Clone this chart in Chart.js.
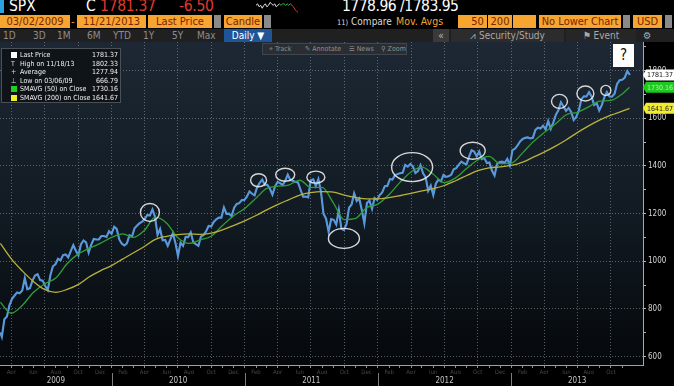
<!DOCTYPE html>
<html><head><meta charset="utf-8">
<script src="https://cdn.jsdelivr.net/npm/chart.js@4.4.1/dist/chart.umd.min.js"></script>
<style>
html,body{margin:0;padding:0;background:#000;}
body{width:674px;height:386px;overflow:hidden;position:relative;font-family:'DejaVu Sans Condensed','DejaVu Sans',sans-serif;}
.a{position:absolute;white-space:nowrap;line-height:1;}
.big{font-size:15.5px;}
.f{position:absolute;top:15px;height:13px;background:#f7a531;color:#7a2400;font-size:11px;line-height:13px;text-align:center;}
.dd{position:absolute;top:15px;height:13px;width:7px;background:#8a8a8a;}
.r3{position:absolute;top:29px;height:13px;font-size:10px;line-height:13px;color:#8e8e8e;}
#lg{position:absolute;left:1px;top:48px;width:120px;height:55px;background:rgba(14,18,23,0.92);border:1px solid #4b5057;box-sizing:border-box;font-size:7px;color:#f0f0f0;}
#lg div{position:absolute;left:0;width:118px;height:8px;line-height:8px;}
#lg .l{position:absolute;left:18px;}
#lg .v{position:absolute;right:2px;}
#lg .i{position:absolute;left:9px;top:1px;width:6px;height:6px;}
#tb{position:absolute;left:262px;top:43px;width:145px;height:12px;background:#2a2e33;border:1px solid #41464c;box-sizing:border-box;font-size:7px;color:#8c8f93;line-height:10px;}
#tb span{position:absolute;}
#q{position:absolute;left:613px;top:44px;width:21px;height:23px;background:#fff;color:#111;font-size:15px;line-height:23px;text-align:center;}
</style></head><body>
<script>
// ---------------- data ----------------
const startDate = '2009-03-02';
const startClose = 700.82;
const firstFriday = '2009-03-06';
// weekly closes (one per week from 03/06/2009 to 11/21/2013)
const weeklyClose = [
683.38,756.55,768.54,815.94,842.50,856.56,869.60,866.23,877.52,929.23,882.88,887.00,919.14,940.09,946.21,921.23,918.90,896.42,879.13,940.38,979.26,987.48,1010.48,1004.09,1026.13,1028.93,1016.40,1042.73,1068.30,1044.38,1025.21,1071.49,1087.68,1079.60,1036.19,1069.30,1093.48,1091.38,1091.49,1105.98,1106.41,1102.47,1126.48,1115.10,
1144.98,1136.03,1091.76,1073.87,1066.19,1075.51,1109.17,1104.49,1138.70,1149.99,1159.90,1166.59,1178.10,1194.37,1192.13,1217.28,1186.69,1110.88,1135.68,1087.69,1089.41,1064.88,1091.60,1117.51,1076.76,1022.58,1077.96,1064.88,1102.66,1101.60,1121.64,1079.25,1071.69,1064.59,1104.51,1109.55,1125.59,1148.67,1146.24,1165.15,1176.19,1183.08,1183.26,1225.85,1199.21,1199.73,1189.40,1224.71,1240.40,1243.91,1256.77,1257.64,
1271.50,1293.24,1283.35,1276.34,1310.87,1329.15,1343.01,1319.88,1321.15,1304.28,1279.20,1313.80,1332.41,1328.17,1319.68,1337.38,1363.61,1340.20,1337.77,1333.27,1331.10,1300.16,1270.98,1271.50,1268.45,1339.67,1343.80,1316.14,1345.02,1292.28,1199.38,1178.81,1123.53,1176.80,1173.97,1154.23,1216.01,1136.43,1131.42,1155.46,1224.58,1238.25,1285.09,1253.23,1263.85,1215.65,1158.67,1244.28,1255.19,1219.66,1265.33,1257.60,
1277.81,1289.09,1315.38,1316.33,1344.90,1342.64,1361.23,1365.74,1369.63,1370.87,1404.17,1397.11,1408.47,1398.08,1370.26,1378.53,1403.36,1369.10,1353.39,1295.22,1317.82,1278.04,1325.66,1342.84,1335.02,1362.16,1354.68,1356.78,1362.66,1385.97,1390.99,1405.87,1418.16,1411.13,1406.58,1437.92,1465.77,1460.15,1440.67,1460.93,1428.59,1433.19,1411.94,1414.20,1379.85,1359.88,1409.15,1416.18,1418.07,1413.58,1430.15,1402.43,
1466.47,1472.05,1485.98,1502.96,1513.17,1517.93,1519.79,1515.60,1518.20,1551.18,1560.70,1556.89,1569.19,1553.28,1588.85,1555.25,1582.24,1614.42,1633.70,1667.47,1649.60,1630.74,1643.38,1626.73,1592.43,1606.28,1631.89,1680.19,1692.09,1691.65,1709.67,1691.42,1655.83,1663.50,1632.97,1655.17,1687.99,1709.91,1691.75,1690.50,1703.20,1744.50,1759.77,1761.64,1770.61,1798.18,1781.37
];
const maDates = ['2009-03-02',
'2009-04-01','2009-05-01','2009-06-01','2009-07-01','2009-08-01','2009-09-01','2009-10-01','2009-11-01','2009-12-01',
'2010-01-01','2010-02-01','2010-03-01','2010-04-01','2010-05-01','2010-06-01','2010-07-01','2010-08-01','2010-09-01','2010-10-01','2010-11-01','2010-12-01',
'2011-01-01','2011-02-01','2011-03-01','2011-04-01','2011-05-01','2011-06-01','2011-07-01','2011-08-01','2011-09-01','2011-10-01','2011-11-01','2011-12-01',
'2012-01-01','2012-02-01','2012-03-01','2012-04-01','2012-05-01','2012-06-01','2012-07-01','2012-08-01','2012-09-01','2012-10-01','2012-11-01','2012-12-01',
'2013-01-01','2013-02-01','2013-03-01','2013-04-01','2013-05-01','2013-06-01','2013-07-01','2013-08-01','2013-09-01','2013-10-01','2013-11-01','2013-11-21'];
const sma50 = [828,
782,815,870,905,930,990,1030,1055,1075,
1100,1115,1100,1130,1185,1160,1100,1075,1090,1105,1150,1190,
1222,1265,1305,1315,1320,1340,1310,1310,1245,1175,1180,1225,
1240,1280,1330,1375,1395,1365,1330,1350,1390,1425,1440,1410,
1412,1455,1500,1540,1575,1615,1625,1648,1672,1675,1702,1730.16];
const sma200 = [1075,
1010,960,915,882,870,882,902,935,960,
982,1010,1035,1062,1092,1105,1112,1115,1113,1118,1132,1150,
1170,1192,1215,1238,1258,1278,1288,1292,1290,1278,1268,1262,
1262,1267,1275,1285,1295,1305,1318,1338,1360,1380,1392,1396,
1402,1416,1436,1458,1482,1510,1540,1568,1593,1613,1630,1641.67];
const yTickValues = [600,700,800,900,1000,1100,1200,1300,1400,1500,1600,1700,1800,1900];
const monthNames = ['Jan','Feb','Mar','Apr','May','Jun','Jul','Aug','Sep','Oct','Nov','Dec'];
const years = ['2009','2010','2011','2012','2013'];
const yearStarts = ['2010-01-01','2011-01-01','2012-01-01','2013-01-01'];
const circleDates = ['2010-04-16','2011-02-08','2011-04-22','2011-07-15','2011-09-30','2012-04-04','2012-09-17','2013-05-13','2013-07-23','2013-09-17'];
const circlePrices = [1205,1340,1363,1353,1096,1395,1464,1671,1704,1717];
const sparkWhite = [6,7,5,6,4,6,7,5,6,8,7,6,7,5,6,7];
const sparkGreen = [7,6,7,7,6,7,6,7,6];
const sparkRed = [6,5,3,2,1];
</script>

<!-- header row 1 -->
<div class="a" style="left:0;top:0;width:4px;height:13px;background:#2ba3df"></div>
<div class="a big" style="left:9px;top:-1px;color:#fff">SPX</div>
<div class="a big" style="left:86px;top:-1px;color:#fff">C</div>
<div class="a big" style="left:100px;top:-1px;color:#e2392f;letter-spacing:-0.3px">1781.37</div>
<div class="a big" style="left:179px;top:-1px;color:#e2392f;letter-spacing:-0.3px">-6.50</div>
<div class="a" style="left:255px;top:0;width:80px;height:15px"><canvas id="spark" width="80" height="15"></canvas></div>
<div class="a big" style="left:342px;top:-1px;color:#fff;letter-spacing:-0.5px">1778.96 /1783.95</div>
<!-- header row 2 -->
<div class="f" style="left:0;width:70px">03/02/2009</div>
<div class="a" style="left:71px;top:15px;font-size:11px;line-height:13px;color:#f7a531">-</div>
<div class="f" style="left:77px;width:69px">11/21/2013</div>
<div class="f" style="left:148px;width:64px">Last Price</div>
<div class="dd" style="left:214px"></div>
<div class="f" style="left:224px;width:38px">Candle</div>
<div class="dd" style="left:264px"></div>
<div class="a" style="left:337px;top:15px;font-size:10px;line-height:13px;color:#d8d8d8"><span style="font-size:7.5px">11)</span> Compare</div>
<div class="a" style="left:396px;top:15px;font-size:10.5px;line-height:13px;color:#f7a531">Mov. Avgs</div>
<div class="f" style="left:458px;width:29px;text-align:right">50&nbsp;</div>
<div class="f" style="left:488px;width:24px">200</div>
<div class="f" style="left:513px;width:23px"></div>
<div class="f" style="left:539px;width:82px">No Lower Chart</div>
<div class="dd" style="left:623px"></div>
<div class="f" style="left:633px;width:29px">USD</div>
<div class="dd" style="left:665px"></div>
<!-- header row 3 -->
<div class="a" style="left:0;top:29px;width:674px;height:13px;background:#202020"></div>
<div class="r3" style="left:3px">1D</div>
<div class="r3" style="left:33px">3D</div>
<div class="r3" style="left:57px">1M</div>
<div class="r3" style="left:87px">6M</div>
<div class="r3" style="left:113px">YTD</div>
<div class="r3" style="left:143px">1Y</div>
<div class="r3" style="left:172px">5Y</div>
<div class="r3" style="left:197px">Max</div>
<div class="r3" style="left:224px;width:48px;background:#1f5597;color:#fff;text-align:center">Daily ▼</div>
<div class="r3" style="left:433px;width:16px;background:#3a3a3a;color:#bbb;text-align:center">«</div>
<div class="r3" style="left:451px;width:113px;background:#2c2c2c;color:#a8a8a8;text-align:center">⩘ Security/Study</div>
<div class="r3" style="left:566px;width:70px;background:#262626;color:#a8a8a8;text-align:center">⚑ Event</div>
<div class="r3" style="left:643px;width:10px;color:#a8a8a8">⚙</div>

<div class="a" style="left:0;top:42px;width:674px;height:344px"><canvas id="c" width="674" height="344"></canvas></div>

<div id="tb"><span style="left:6px">⌖ Track</span><span style="left:42px">✎ Annotate</span><span style="left:86px">☰ News</span><span style="left:118px">⚲ Zoom</span></div>
<div id="lg">
 <div style="top:2px"><span class="i" style="background:#fff"></span><span class="l">Last Price</span><span class="v">1781.37</span></div>
 <div style="top:10.5px"><span class="i" style="color:#ddd;font-size:7px;top:0">T</span><span class="l">High on 11/18/13</span><span class="v">1802.33</span></div>
 <div style="top:19px"><span class="i" style="color:#ddd;font-size:7px;top:0">+</span><span class="l">Average</span><span class="v">1277.94</span></div>
 <div style="top:27.5px"><span class="i" style="color:#ddd;font-size:7px;top:0">⊥</span><span class="l">Low on 03/06/09</span><span class="v">666.79</span></div>
 <div style="top:36px"><span class="i" style="background:#1ed01e"></span><span class="l">SMAVG (50) on Close</span><span class="v">1730.16</span></div>
 <div style="top:44.5px"><span class="i" style="background:#f3ee2c"></span><span class="l">SMAVG (200) on Close</span><span class="v">1641.67</span></div>
</div>
<div id="q">?</div>

<script>
function dayOf(s){const p=s.split('-').map(Number);return (Date.UTC(p[0],p[1]-1,p[2])-Date.UTC(2009,2,2))/864e5;}
const X_MIN=-1, X_MAX=1762, Y_MIN=565, Y_MAX=1920;

const pricePts=[{x:dayOf(startDate),y:startClose}].concat(weeklyClose.map((v,i)=>({x:dayOf(firstFriday)+7*i,y:v})));
const ma50Pts=maDates.map((d,i)=>({x:dayOf(d),y:sma50[i]}));
const ma200Pts=maDates.map((d,i)=>({x:dayOf(d),y:sma200[i]}));
const monthStarts=maDates.slice(1,-1);
const monthVals=monthStarts.map(dayOf);
const quarterSet=new Set(monthStarts.filter(d=>[1,4,7,10].includes(+d.split('-')[1])).map(dayOf));
const monthLbl=monthStarts.map(d=>{const m=+d.split('-')[1];return m%2===0?monthNames[m-1]:'';});
const bounds=[X_MIN].concat(yearStarts.map(dayOf)).concat([X_MAX]);
const yearMid=years.map((y,i)=>(bounds[i]+bounds[i+1])/2);

function zeroPad(s){s.paddingLeft=0;s.paddingRight=0;s.paddingTop=0;s.paddingBottom=0;}

const bgPlugin={id:'bg',beforeDraw(ch){const c=ch.ctx,a=ch.chartArea;c.save();c.fillStyle='#000';c.fillRect(0,0,ch.width,ch.height);
 const g=c.createLinearGradient(0,a.top,0,a.bottom);g.addColorStop(0,'#1d2834');g.addColorStop(0.55,'#111a22');g.addColorStop(1,'#05080b');
 c.fillStyle=g;c.fillRect(a.left,a.top,a.right-a.left,a.bottom-a.top);c.restore();}};
const circleRadii=[[9.5,9],[8,6.5],[9.5,6.5],[9,6],[15.5,10],[20.5,14.5],[12.5,8.5],[8,7],[8.5,7.5],[5,5]];
const circlePlugin={id:'circ',afterDatasetsDraw(ch){const c=ch.ctx,xs=ch.scales.x,ys=ch.scales.y;c.save();c.strokeStyle='rgba(235,235,235,0.9)';c.lineWidth=1.4;
 circleDates.forEach((d,i)=>{const cx=xs.getPixelForValue(dayOf(d)),cy=ys.getPixelForValue(circlePrices[i]);c.beginPath();c.ellipse(cx,cy,circleRadii[i][0],circleRadii[i][1],0,0,Math.PI*2);c.stroke();});c.restore();}};
const tagPlugin={id:'tags',afterDraw(ch){const c=ch.ctx,ys=ch.scales.y,a=ch.chartArea;
 const tags=[[weeklyClose[weeklyClose.length-1],'#ffffff','#111'],[sma50[sma50.length-1],'#1ec81e','#a8f5a8'],[sma200[sma200.length-1],'#f2ec2e','#222']];
 c.save();c.font='7px "DejaVu Sans Condensed"';c.textAlign='center';c.textBaseline='middle';
 tags.forEach(t=>{const y=ys.getPixelForValue(t[0]);const x0=a.right+3,x1=ch.width;c.fillStyle=t[1];c.beginPath();c.moveTo(a.right,y);c.lineTo(x0,y-5.5);c.lineTo(x1,y-5.5);c.lineTo(x1,y+5.5);c.lineTo(x0,y+5.5);c.closePath();c.fill();
  c.fillStyle=t[2];c.fillText(t[0].toFixed(2),(x0+x1)/2,y+0.5);});
 const xs=ch.scales.x;c.strokeStyle='#7d7d7d';c.lineWidth=1;
 yearStarts.forEach(d=>{const px=Math.round(xs.getPixelForValue(dayOf(d)))+0.5;c.beginPath();c.moveTo(px,a.bottom+8);c.lineTo(px,ch.height);c.stroke();});
 c.restore();}};

new Chart(document.getElementById('c'),{
 type:'line',
 data:{datasets:[
  {data:ma200Pts,borderColor:'#b9b23a',borderWidth:1.3,pointRadius:0,cubicInterpolationMode:'monotone'},
  {data:ma50Pts,borderColor:'#2f9f35',borderWidth:1.3,pointRadius:0,cubicInterpolationMode:'monotone'},
  {data:pricePts,borderColor:'#5a98dc',borderWidth:2.1,pointRadius:0,tension:0},
  {data:pricePts,borderColor:'rgba(236,243,252,0.85)',borderWidth:0.9,pointRadius:0,tension:0}
 ]},
 options:{responsive:false,animation:false,layout:{padding:0},
  plugins:{legend:{display:false},tooltip:{enabled:false}},
  scales:{
   x:{type:'linear',position:'bottom',min:X_MIN,max:X_MAX,
    afterBuildTicks:s=>{s.ticks=monthVals.map(v=>({value:v}));},
    ticks:{autoSkip:false,maxRotation:0,font:{size:6,family:'DejaVu Sans Condensed'},color:'#464646',padding:1,callback:(v,i)=>monthLbl[i]},
    grid:{color:c=>quarterSet.has(c.tick&&c.tick.value)?'rgba(150,160,172,0.55)':'rgba(0,0,0,0)',tickColor:'#8a8a8a',tickLength:3,tickBorderDash:[],lineWidth:1},
    border:{display:true,color:'#a0a0a0',dash:[1,2]},
    afterFit:s=>{s.height=9;zeroPad(s);}},
   x2:{type:'linear',position:'bottom',min:X_MIN,max:X_MAX,
    afterBuildTicks:s=>{s.ticks=yearMid.map(v=>({value:v}));},
    ticks:{autoSkip:false,maxRotation:0,font:{size:8,family:'DejaVu Sans Condensed'},color:'#c4c4c4',padding:2,callback:(v,i)=>years[i]},
    grid:{display:false,drawTicks:false},border:{display:false},
    afterFit:s=>{s.height=12;zeroPad(s);}},
   y:{type:'linear',position:'right',min:Y_MIN,max:Y_MAX,
    afterBuildTicks:s=>{s.ticks=yTickValues.map(v=>({value:v}));},
    ticks:{autoSkip:false,font:{size:8,family:'DejaVu Sans Condensed'},color:'#d4d4d4',padding:2,callback:v=>(v%200===0?String(v):'')},
    grid:{color:c=>(c.tick&&c.tick.value%200===0)?'rgba(150,160,172,0.55)':'rgba(0,0,0,0)',tickColor:'#b8b8b8',tickLength:3,tickBorderDash:[]},
    border:{display:true,color:'#a8a8a8',dash:[1,2]},
    afterFit:s=>{s.width=31;zeroPad(s);}}
  }},
 plugins:[bgPlugin,circlePlugin,tagPlugin]
});

new Chart(document.getElementById('spark'),{type:'line',
 data:{datasets:[
  {data:sparkWhite.map((v,i)=>({x:i,y:v})),borderColor:'#e8e8e8',borderWidth:1,pointRadius:0},
  {data:sparkGreen.map((v,i)=>({x:sparkWhite.length-1+i,y:v})),borderColor:'#39b54a',borderWidth:1,pointRadius:0},
  {data:sparkRed.map((v,i)=>({x:sparkWhite.length+sparkGreen.length-2+i,y:v})),borderColor:'#e03a2e',borderWidth:1,pointRadius:0}]},
 options:{responsive:false,animation:false,layout:{padding:1},plugins:{legend:{display:false},tooltip:{enabled:false}},
  scales:{x:{type:'linear',display:false},y:{display:false,min:0,max:9}}}});
</script>
</body></html>
